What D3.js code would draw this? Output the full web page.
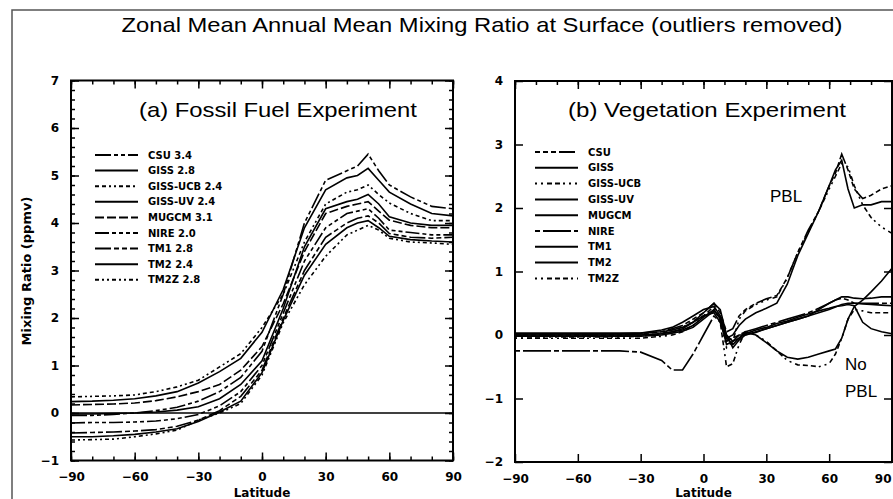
<!DOCTYPE html>
<html>
<head>
<meta charset="utf-8">
<script src="https://cdn.jsdelivr.net/npm/d3@7"></script>
<style>
  body { margin: 0; background: #fff; }
  text { font-family: "Liberation Sans", "DejaVu Sans", sans-serif; fill: #000; }
  .tick text { font-family: "DejaVu Sans", sans-serif; font-weight: bold; font-size: 12px; fill: #000; }
  .domain { display: none; }
  .tick line { stroke: #000; stroke-width: 1.5; }
</style>
</head>
<body>
<svg id="chart" width="893" height="499"></svg>
<script>
// ---- data ----
var fossilLat = [-90,-80,-70,-60,-50,-40,-30,-20,-10,0,10,20,30,40,45,50,55,60,70,80,90];
var fossilNames = ["CSU 3.4","GISS 2.8","GISS-UCB 2.4","GISS-UV 2.4","MUGCM 3.1","NIRE 2.0","TM1 2.8","TM2 2.4","TM2Z 2.8"];
var ffCSU   = [-0.05,-0.05,-0.03,0.0,0.05,0.12,0.25,0.45,0.75,1.3,2.5,4.0,4.9,5.1,5.2,5.45,5.1,4.8,4.55,4.35,4.3];
var ffGISS  = [0.24,0.25,0.27,0.3,0.36,0.45,0.63,0.87,1.15,1.7,2.6,3.9,4.7,4.95,5.0,5.15,4.9,4.65,4.4,4.2,4.15];
var ffUCB   = [0.34,0.35,0.36,0.38,0.45,0.55,0.69,0.97,1.25,1.8,2.5,3.6,4.4,4.65,4.7,4.8,4.6,4.42,4.2,4.05,4.05];
var ffUV    = [-0.02,-0.02,-0.01,0.0,0.02,0.06,0.13,0.3,0.6,1.1,2.2,3.5,4.3,4.45,4.5,4.6,4.4,4.13,4.0,3.95,3.95];
var ffMUGCM = [0.17,0.18,0.19,0.21,0.26,0.34,0.45,0.6,0.9,1.4,2.3,3.4,4.2,4.35,4.4,4.45,4.25,4.06,3.95,3.9,3.9];
var ffNIRE  = [-0.21,-0.2,-0.2,-0.19,-0.17,-0.12,-0.03,0.15,0.45,1.0,2.1,3.2,3.9,4.2,4.25,4.3,4.1,3.85,3.8,3.75,3.75];
var ffTM1   = [-0.42,-0.41,-0.4,-0.38,-0.35,-0.28,-0.15,0.05,0.35,0.9,2.0,3.0,3.7,4.0,4.1,4.15,4.0,3.78,3.7,3.68,3.7];
var ffTM2   = [-0.5,-0.5,-0.48,-0.45,-0.4,-0.33,-0.18,0.02,0.25,0.85,1.95,2.9,3.55,3.9,4.0,4.05,3.9,3.72,3.65,3.62,3.6];
var ffTM2Z  = [-0.57,-0.56,-0.55,-0.5,-0.44,-0.36,-0.15,0.0,0.2,0.8,1.9,2.7,3.3,3.75,3.85,3.95,3.85,3.68,3.6,3.58,3.55];
var fossilDash = ["16,3,4,3,4,3", null, "4,3,4,3,2,3,2,3", null, "9,3", "14,3,4,3,4,3,4,3", "16,3,5,3,5,3", null, "4,3,2,3,2,3"];

var vegLat = [-90,-60,-40,-30,-20,-15,-10,-5,0,5,8,11,14,17,20,25,30,35,40,45,50,55,60,63,66,69,72,76,80,85,90];
var vegNames = ["CSU","GISS","GISS-UCB","GISS-UV","MUGCM","NIRE","TM1","TM2","TM2Z"];
var vgCSU   = [0.0,0.0,0.0,0.02,0.05,0.1,0.15,0.25,0.35,0.5,0.35,0.05,0.1,0.3,0.4,0.5,0.57,0.62,0.9,1.3,1.65,1.95,2.35,2.55,2.85,2.6,2.3,2.15,2.2,2.3,2.35];
var vgGISS  = [0.02,0.02,0.02,0.03,0.08,0.12,0.2,0.3,0.4,0.45,0.3,-0.05,0.0,0.15,0.25,0.35,0.42,0.5,0.8,1.25,1.6,1.95,2.35,2.6,2.75,2.3,2.0,2.05,2.05,2.1,2.1];
var vgUCB   = [-0.03,-0.03,-0.03,-0.02,0.02,0.08,0.12,0.22,0.3,0.4,0.25,-0.2,-0.1,0.25,0.38,0.48,0.55,0.6,0.9,1.3,1.62,1.95,2.3,2.5,2.7,2.65,2.35,2.05,1.85,1.7,1.6];
var vgUV    = [0.03,0.03,0.03,0.03,0.05,0.08,0.12,0.2,0.3,0.35,0.2,-0.05,-0.15,-0.05,0.02,0.08,0.12,0.18,0.22,0.28,0.33,0.38,0.42,0.45,0.46,0.48,0.46,0.2,0.1,0.05,0.02];
var vgMUGCM = [0.0,0.0,0.0,0.0,0.02,0.05,0.08,0.15,0.28,0.4,0.25,-0.15,-0.1,0.0,0.0,0.05,0.1,0.15,0.2,0.25,0.3,0.4,0.5,0.55,0.6,0.6,0.58,0.57,0.58,0.6,0.6];
var vgNIRE  = [-0.25,-0.25,-0.25,-0.27,-0.4,-0.55,-0.55,-0.3,0.0,0.3,0.2,-0.1,-0.05,0.0,0.05,0.1,0.15,0.2,0.25,0.3,0.35,0.42,0.5,0.55,0.58,0.55,0.5,0.5,0.5,0.5,0.5];
var vgTM1   = [0.0,0.0,0.0,0.0,0.02,0.05,0.1,0.2,0.35,0.5,0.4,0.0,-0.1,-0.05,0.05,0.0,-0.12,-0.25,-0.35,-0.38,-0.35,-0.3,-0.25,-0.22,-0.05,0.25,0.45,0.55,0.68,0.85,1.05];
var vgTM2   = [-0.02,-0.02,-0.02,-0.02,0.0,0.03,0.06,0.12,0.25,0.38,0.28,0.0,-0.2,-0.08,0.0,0.04,0.1,0.15,0.2,0.25,0.3,0.35,0.4,0.44,0.48,0.5,0.5,0.49,0.48,0.47,0.46];
var vgTM2Z  = [-0.05,-0.05,-0.05,-0.05,-0.02,0.0,0.05,0.15,0.3,0.45,0.2,-0.5,-0.45,-0.15,0.05,0.0,-0.1,-0.25,-0.4,-0.47,-0.48,-0.5,-0.45,-0.3,-0.05,0.25,0.4,0.38,0.35,0.35,0.35];
var vegDash = ["5,3,5,3,5,3,16,3", null, "2,4,2,4,5,3,5,3,2,4", null, null, "5,3,28,3", null, null, "2,4,2,4,5,3,5,3,5,3"];

var latTicks = [-90,-60,-30,0,30,60,90];

var svg = d3.select("#chart");
svg.append("rect").attr("width", 893).attr("height", 499).attr("fill", "#fff");

// outer frame of the figure
svg.append("rect")
    .attr("x", 12).attr("y", 10).attr("width", 900).attr("height", 520)
    .attr("fill", "none").attr("stroke", "#555").attr("stroke-width", 1.5);

svg.append("text")
    .attr("x", 482).attr("y", 32)
    .attr("text-anchor", "middle")
    .attr("textLength", 721).attr("lengthAdjust", "spacingAndGlyphs")
    .style("font-size", "21px")
    .text("Zonal Mean Annual Mean Mixing Ratio at Surface (outliers removed)");

function fmt(d) { return d < 0 ? "\u2212" + (-d) : String(d); }

function panel(opt) {
  var x = d3.scaleLinear().domain([-90, 90]).range(opt.xr);
  var y = d3.scaleLinear().domain(opt.yd).range(opt.yr);
  var g = svg.append("g");

  var yMajor = d3.range(opt.yd[0], opt.yd[1] + 1);

  // minor ticks
  if (opt.minor) {
    var xMinor = d3.range(-90, 91, 10);
    var yMinor = d3.range(opt.yd[0] * 5, opt.yd[1] * 5 + 1).map(function(d) { return d / 5; });
    g.append("g").attr("transform", "translate(0," + opt.yr[0] + ")")
      .call(d3.axisBottom(x).tickValues(xMinor).tickSize(-4).tickFormat(""));
    g.append("g").attr("transform", "translate(0," + opt.yr[1] + ")")
      .call(d3.axisTop(x).tickValues(xMinor).tickSize(-4).tickFormat(""));
    g.append("g").attr("transform", "translate(" + opt.xr[0] + ",0)")
      .call(d3.axisLeft(y).tickValues(yMinor).tickSize(-4).tickFormat(""));
    g.append("g").attr("transform", "translate(" + opt.xr[1] + ",0)")
      .call(d3.axisRight(y).tickValues(yMinor).tickSize(-4).tickFormat(""));
  } else {
    g.append("g").attr("transform", "translate(0," + opt.yr[1] + ")")
      .call(d3.axisTop(x).tickValues(d3.range(-90, 91, 10)).tickSize(-4).tickFormat(""));
  }

  // major ticks with labels
  var bottom = g.append("g").attr("transform", "translate(0," + opt.yr[0] + ")")
    .call(d3.axisBottom(x).tickValues(latTicks).tickSize(-8).tickPadding(12).tickFormat(fmt));
  if (opt.lastEnd) {
    // the last label would run off the page, so end it at the tick
    bottom.selectAll(".tick text")
      .filter(function(d) { return d === 90; })
      .attr("text-anchor", "end")
      .attr("x", -1);
  }
  g.append("g").attr("transform", "translate(0," + opt.yr[1] + ")")
    .call(d3.axisTop(x).tickValues(latTicks).tickSize(-8).tickFormat(""));
  g.append("g").attr("transform", "translate(" + opt.xr[0] + ",0)")
    .call(d3.axisLeft(y).tickValues(yMajor).tickSize(-8).tickPadding(12).tickFormat(fmt));
  g.append("g").attr("transform", "translate(" + opt.xr[1] + ",0)")
    .call(d3.axisRight(y).tickValues(yMajor).tickSize(-8).tickFormat(""));

  g.append("rect")
    .attr("x", opt.xr[0]).attr("y", opt.yr[1])
    .attr("width", opt.xr[1] - opt.xr[0]).attr("height", opt.yr[0] - opt.yr[1])
    .attr("fill", "none").attr("stroke", "#000").attr("stroke-width", 2);

  if (opt.zero) {
    g.append("line")
      .attr("x1", opt.xr[0]).attr("x2", opt.xr[1])
      .attr("y1", y(0)).attr("y2", y(0))
      .attr("stroke", "#000").attr("stroke-width", 1.5);
  }

  var line = d3.line()
    .x(function(d, i) { return x(opt.lat[i]); })
    .y(function(d) { return y(d); });

  g.selectAll(".curve")
      .data(opt.series)
    .enter().append("path")
      .attr("class", "curve")
      .attr("d", line)
      .attr("fill", "none")
      .attr("stroke", "#000")
      .attr("stroke-width", 1.6)
      .attr("stroke-dasharray", function(d, i) { return opt.dash[i]; });

  // legend
  var leg = g.selectAll(".legend")
      .data(opt.names)
    .enter().append("g")
      .attr("class", "legend")
      .attr("transform", function(d, i) { return "translate(" + opt.legX + "," + (opt.legY + i * opt.legStep) + ")"; });
  leg.append("line")
      .attr("x1", 0).attr("x2", 43)
      .attr("stroke", "#000").attr("stroke-width", 2)
      .attr("stroke-dasharray", function(d, i) { return opt.dash[i]; });
  leg.append("text")
      .attr("x", 53).attr("dy", "0.35em")
      .style("font-family", "DejaVu Sans")
      .style("font-weight", "bold")
      .style("font-size", "10px")
      .text(function(d) { return d; });

  g.append("text")
      .attr("x", opt.titleX).attr("y", 117)
      .attr("textLength", 278).attr("lengthAdjust", "spacingAndGlyphs")
      .style("font-size", "21px")
      .text(opt.title);

  g.append("text")
      .attr("x", x(0)).attr("y", 497)
      .attr("text-anchor", "middle")
      .style("font-family", "DejaVu Sans")
      .style("font-weight", "bold")
      .style("font-size", "12px")
      .text("Latitude");

  return {x: x, y: y, g: g};
}

panel({
  xr: [71, 453], yd: [-1, 7], yr: [460.5, 80.5], minor: true, zero: true,
  lat: fossilLat,
  series: [ffCSU, ffGISS, ffUCB, ffUV, ffMUGCM, ffNIRE, ffTM1, ffTM2, ffTM2Z],
  names: fossilNames, dash: fossilDash,
  legX: 95, legY: 155, legStep: 15.6,
  title: "(a) Fossil Fuel Experiment", titleX: 139
});

var b = panel({
  xr: [515, 892], yd: [-2, 4], yr: [462, 81], minor: false, zero: false, lastEnd: true,
  lat: vegLat,
  series: [vgCSU, vgGISS, vgUCB, vgUV, vgMUGCM, vgNIRE, vgTM1, vgTM2, vgTM2Z],
  names: vegNames, dash: vegDash,
  legX: 535, legY: 152, legStep: 15.8,
  title: "(b) Vegetation Experiment", titleX: 568
});

b.g.append("text").attr("x", 770).attr("y", 202).style("font-size", "17px").text("PBL");
b.g.append("text").attr("x", 845).attr("y", 370).style("font-size", "17px").text("No");
b.g.append("text").attr("x", 845).attr("y", 397).style("font-size", "17px").text("PBL");

svg.append("text")
    .attr("transform", "translate(31,271) rotate(-90)")
    .attr("text-anchor", "middle")
    .style("font-family", "DejaVu Sans")
    .style("font-weight", "bold")
    .style("font-size", "13px")
    .text("Mixing Ratio (ppmv)");
</script>
</body>
</html>
